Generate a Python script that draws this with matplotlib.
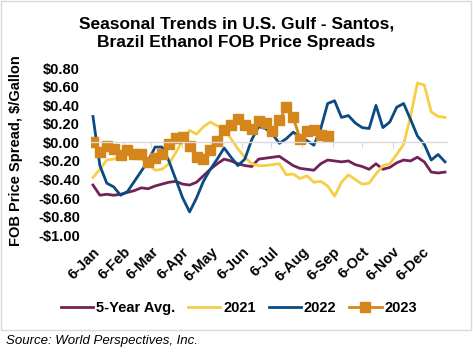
import matplotlib
matplotlib.use("Agg")
import matplotlib.pyplot as plt
import pandas as pd

plt.rcParams['font.family'] = ['Liberation Sans', 'DejaVu Sans']

# weekly observations, day/month only (plotted on a 2023 calendar)
weeks = pd.date_range("2023-01-06", periods=52, freq="7D")

avg5 = [-0.46, -0.57, -0.56, -0.57, -0.56, -0.54, -0.52, -0.49, -0.50, -0.47,
        -0.45, -0.43, -0.42, -0.45, -0.46, -0.43, -0.36, -0.29, -0.23, -0.18,
        -0.20, -0.23, -0.25, -0.26, -0.18, -0.17, -0.16, -0.15, -0.20, -0.25,
        -0.28, -0.29, -0.30, -0.23, -0.19, -0.20, -0.21, -0.20, -0.24, -0.26,
        -0.29, -0.23, -0.29, -0.27, -0.22, -0.19, -0.20, -0.16, -0.21, -0.32,
        -0.33, -0.32]

y2021 = [-0.38, -0.29, -0.19, -0.18, -0.16, -0.13, -0.15, -0.18, -0.23, -0.30,
         -0.29, -0.23, -0.11, 0.02, 0.13, 0.09, 0.17, 0.22, 0.18, 0.15,
         0.04, -0.07, -0.16, -0.23, -0.25, -0.25, -0.24, -0.23, -0.35, -0.34,
         -0.39, -0.36, -0.43, -0.42, -0.47, -0.58, -0.43, -0.35, -0.40, -0.45,
         -0.44, -0.34, -0.25, -0.23, -0.13, -0.02, 0.28, 0.64, 0.62, 0.33,
         0.28, 0.27]

y2022 = [0.28, -0.25, -0.44, -0.48, -0.57, -0.53, -0.42, -0.31, -0.20, -0.05,
         -0.05, -0.20, -0.40, -0.60, -0.75, -0.60, -0.42, -0.29, -0.18, -0.06,
         -0.16, -0.25, -0.18, 0.03, 0.17, 0.15, 0.09, -0.01, 0.04, 0.11,
         0.06, 0.02, -0.03, 0.15, 0.42, 0.45, 0.27, 0.29, 0.21, 0.16,
         0.15, 0.40, 0.16, 0.22, 0.38, 0.42, 0.25, 0.07, -0.02, -0.19,
         -0.13, -0.21]

y2023 = [0.00, -0.10, -0.04, -0.07, -0.14, -0.08, -0.12, -0.13, -0.21, -0.17,
         -0.12, -0.02, 0.05, 0.06, -0.04, -0.16, -0.18, -0.08, 0.02, 0.13,
         0.19, 0.25, 0.19, 0.14, 0.23, 0.21, 0.12, 0.24, 0.38, 0.27,
         0.04, 0.12, 0.13, 0.08, 0.07]

month_ticks = pd.date_range("2023-01-06", periods=12, freq=pd.DateOffset(months=1))
month_labels = ["6-Jan", "6-Feb", "6-Mar", "6-Apr", "6-May", "6-Jun",
                "6-Jul", "6-Aug", "6-Sep", "6-Oct", "6-Nov", "6-Dec"]

fig = plt.figure(figsize=(4.73, 3.54), dpi=100)
ax = fig.add_axes([0.1924, 0.336, 0.7526, 0.471])

ax.plot(weeks, avg5, color="#722257", lw=2.0, label="5-Year Avg.")
ax.plot(weeks, y2021, color="#F6CF47", lw=2.0, label="2021")
ax.plot(weeks, y2022, color="#0B4A82", lw=2.0, label="2022")
ax.plot(weeks[:len(y2023)], y2023, color="#D4861A", lw=2.0, marker="s",
        markersize=7, label="2023")

ax.set_ylim(-1.0, 0.8)
ax.set_yticks([0.8, 0.6, 0.4, 0.2, 0.0, -0.2, -0.4, -0.6, -0.8, -1.0])
ax.set_yticklabels(["$0.80", "$0.60", "$0.40", "$0.20", "$0.00", "-$0.20",
                    "-$0.40", "-$0.60", "-$0.80", "-$1.00"],
                   fontsize=10.5, fontweight="bold")
ax.tick_params(axis="y", length=0, pad=8)
ax.set_xlim(weeks[0] - pd.Timedelta(days=2), weeks[-1] + pd.Timedelta(days=2))

for s in ["top", "right", "left"]:
    ax.spines[s].set_visible(False)
ax.spines["bottom"].set_position(("data", 0))
ax.spines["bottom"].set_color("#D9D9D9")
ax.spines["bottom"].set_linewidth(1.0)
ax.set_xticks(month_ticks)
ax.tick_params(axis="x", direction="out", length=4, color="#D9D9D9",
               labelbottom=False)

sec = ax.secondary_xaxis("bottom")
sec.set_xticks(month_ticks)
sec.set_xticklabels(month_labels, rotation=45, ha="right",
                    rotation_mode="anchor", fontsize=10.5, fontweight="bold")
sec.tick_params(length=0, pad=7)
sec.spines["bottom"].set_visible(False)

fig.text(0.034, 0.575, "FOB Price Spread, $/Gallon", rotation=90,
         ha="center", va="center", fontsize=10.5, fontweight="bold")

fig.text(0.5, 0.906, "Seasonal Trends in U.S. Gulf - Santos,\nBrazil Ethanol FOB Price Spreads",
         ha="center", va="center", fontsize=12.5, fontweight="bold", linespacing=1.28)

fig.legend(loc="center", bbox_to_anchor=(0.505, 0.13), ncol=4, frameon=False,
           prop={"size": 10.5, "weight": "bold"}, handlelength=2.2,
           handletextpad=0.2, columnspacing=0.9)

fig.add_artist(plt.Rectangle((0.002, 0.068), 0.994, 0.929,
                             transform=fig.transFigure, fill=False,
                             edgecolor="#D9D9D9", lw=1.0))
fig.text(0.013, 0.037, "Source: World Perspectives, Inc.", fontsize=9.5,
         style="italic", ha="left", va="center")

fig.savefig("out.png", dpi=100)
